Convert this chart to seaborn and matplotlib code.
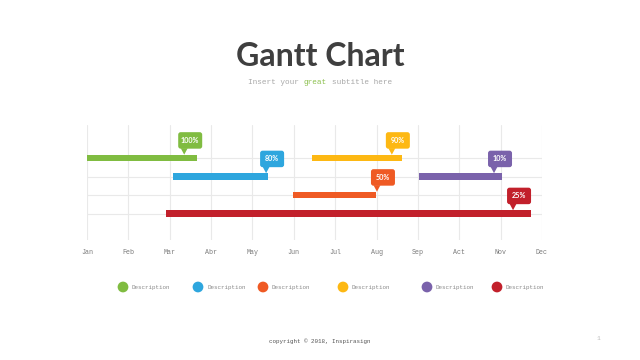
import matplotlib
matplotlib.use("Agg")
import matplotlib.pyplot as plt
import matplotlib.transforms as mtransforms
from matplotlib.patches import FancyBboxPatch, Polygon
import seaborn as sns
import pandas as pd

# ---------------- data ----------------
months = ["Jan", "Feb", "Mar", "Abr", "May", "Jun", "Jul", "Aug", "Sep", "Act", "Nov", "Dec"]
tasks = ["Description"] * 6
rows = [0, 1, 2, 0, 1, 3]
starts = [0.0, 2.08, 4.98, 5.44, 8.03, 1.91]
ends = [2.66, 4.38, 6.99, 7.62, 10.03, 10.73]
progress = ["100%", "80%", "50%", "90%", "10%", "25%"]
label_x = [2.35, 4.33, 7.01, 7.37, 9.84, 10.30]
colors = ["#80bc41", "#2ea6de", "#ef5a24", "#fdb813", "#7a62ab", "#c2202b"]
legend_x_px = [123, 198, 263, 343, 427, 497]
subtitle_parts = ["Insert your ", "great", " subtitle here"]

df = pd.DataFrame({"task": tasks, "row": rows, "start": starts, "end": ends,
                   "label": progress, "lx": label_x, "color": colors})

# ---------------- style ----------------
sns.set_theme(style="white")
plt.rcParams["font.family"] = ["Lato", "DejaVu Sans"]

W, H = 640, 360
fig = plt.figure(figsize=(6.4, 3.6), dpi=100)
fig.patch.set_facecolor("white")

def fx(px):
    return px / W

def fy(py):
    return 1 - py / H

# main axes: x 87..542 px, y 125..240 px
ax = fig.add_axes([fx(87), fy(240), (542 - 87) / W, (240 - 125) / H])
ax.set_facecolor("white")
ax.set_xlim(0, 11)
row_px = 18.5
ax.set_ylim(3 + (240 - 213.5) / row_px, 0 - (158 - 125) / row_px)

grid_c = "#e9e9e9"
ax.set_xticks(range(12))
ax.set_xticklabels(months, fontfamily="Liberation Mono", fontsize=4.8, color="#7a7a7a")
ax.set_yticks([0, 1, 2, 3])
ax.set_yticklabels([])
ax.grid(True, color=grid_c, linewidth=0.8)
ax.tick_params(axis="x", length=3, color=grid_c, width=0.8, pad=3.5)
ax.tick_params(axis="y", length=0)
sns.despine(ax=ax, left=True, bottom=True, top=True, right=True)
ax.set_axisbelow(True)

bar_h = 0.36
for _, r in df.iterrows():
    ax.barh(r["row"], r["end"] - r["start"], left=r["start"], height=bar_h,
            color=r["color"], edgecolor="none", zorder=3)

# callouts
for _, r in df.iterrows():
    tip_y = r["row"] - bar_h / 2
    t = fig.dpi_scale_trans + mtransforms.ScaledTranslation(r["lx"], tip_y, ax.transData)
    box = FancyBboxPatch((-0.060, 0.060), 0.24, 0.165,
                         boxstyle="round,pad=0,rounding_size=0.025",
                         transform=t, facecolor=r["color"], edgecolor="none",
                         zorder=5, clip_on=False)
    ax.add_patch(box)
    tri = Polygon([(-0.035, 0.065), (0.035, 0.065), (0.0, 0.0)], closed=True,
                  transform=t, facecolor=r["color"], edgecolor="none",
                  zorder=5, clip_on=False)
    ax.add_patch(tri)
    ax.text(0.06, 0.1425, r["label"], transform=t, ha="center", va="center",
            fontsize=5.2, color="white", fontweight="bold", fontfamily="Lato",
            zorder=6, clip_on=False)

# ---------------- titles ----------------
fig.text(0.5, fy(66.5), "Gantt Chart", ha="center", va="baseline",
         fontsize=23, fontweight="bold", color="#3f3f3f", fontfamily="Lato")

sub_fs = 5.6
char_px = 0.6 * sub_fs * 100 / 72
n_chars = sum(len(p) for p in subtitle_parts)
x0 = 320 - n_chars * char_px / 2
sub_colors = ["#a8a8a8", "#8cc04e", "#a8a8a8"]
pos = 0
for part, c in zip(subtitle_parts, sub_colors):
    stripped = part.lstrip(" ")
    lead = len(part) - len(stripped)
    fig.text(fx(x0 + (pos + lead) * char_px), fy(82.5), stripped.rstrip(" "),
             ha="left", va="center", fontsize=sub_fs, color=c,
             fontfamily="Liberation Mono")
    pos += len(part)

# ---------------- legend ----------------
lax = fig.add_axes([0, 0, 1, 1], zorder=-1)
leg_df = pd.DataFrame({"x": legend_x_px, "y": [287] * 6, "task": [f"t{i}" for i in range(6)]})
sns.scatterplot(data=leg_df, x="x", y="y", hue="task", palette=colors, s=60,
                edgecolor="none", legend=False, ax=lax)
lax.set_xlim(0, W)
lax.set_ylim(H, 0)
lax.axis("off")
for xp, name in zip(legend_x_px, tasks):
    fig.text(fx(xp + 9), fy(287.5), name, ha="left", va="center", fontsize=4.2,
             color="#8a8a8a", fontfamily="Liberation Mono")

# ---------------- footer ----------------
fig.text(0.5, fy(341), "copyright \u00a9 2018, Inspirasign", ha="center", va="center",
         fontsize=4.2, color="#555555", fontfamily="Liberation Mono")
fig.text(fx(598), fy(338), "1", ha="center", va="center", fontsize=4.5,
         color="#bbbbbb", fontfamily="Liberation Mono")

fig.savefig("out.png", dpi=100, facecolor="white")
